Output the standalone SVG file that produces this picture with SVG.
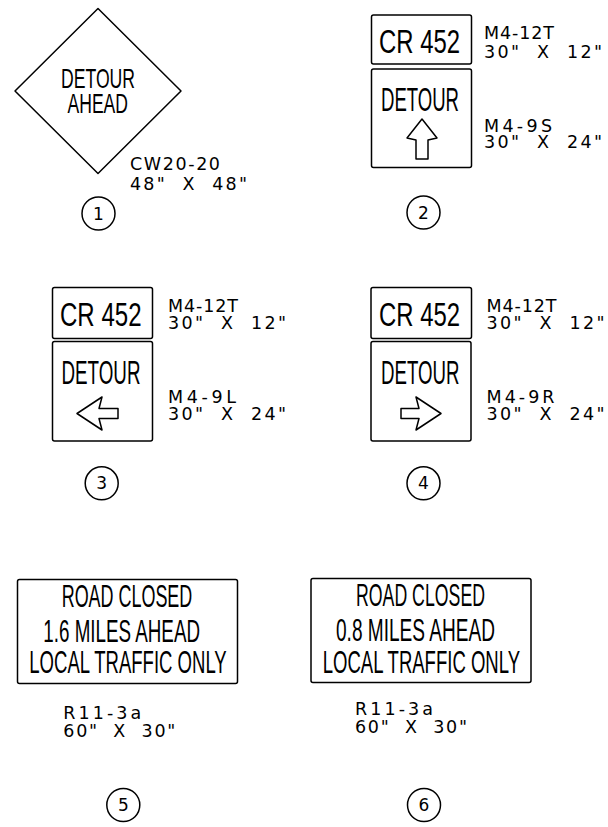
<svg xmlns="http://www.w3.org/2000/svg" width="608" height="827" viewBox="0 0 608 827">
<style>
.s{fill:none;stroke:#000;stroke-width:1.5;stroke-linejoin:round}
.t{font-family:"Liberation Sans",Arial,sans-serif;font-size:34px;fill:#000}
.d{font-family:"Liberation Sans",Arial,sans-serif;font-size:28px;fill:#000}
.r{font-family:"Liberation Sans",Arial,sans-serif;font-size:31px;fill:#000}
.l{font-family:"DejaVu Sans",sans-serif;font-size:17.5px;fill:#000;white-space:pre}
.n{font-family:"DejaVu Sans",sans-serif;font-size:17px;fill:#000;text-anchor:middle}
</style>
<rect width="608" height="827" fill="#fff"/>
<g id="sign1">
<polygon class="s" points="98,8.5 181,91 98,173.5 15,91"/>
<text class="d" x="61" y="87.7" textLength="74" lengthAdjust="spacingAndGlyphs">DETOUR</text>
<text class="d" x="67.5" y="113.3" textLength="60.5" lengthAdjust="spacingAndGlyphs">AHEAD</text>
<text class="l" x="130" y="170" textLength="90" lengthAdjust="spacing">CW20-20</text>
<text class="l" x="130" y="190" textLength="117" lengthAdjust="spacing" xml:space="preserve">48"  X  48"</text>
<circle class="s" cx="98.5" cy="213.5" r="16.5"/>
<text class="n" x="98.5" y="219.5">1</text>
</g>
<g id="sign2">
<rect class="s" x="371.5" y="15" width="100" height="49" rx="2"/>
<rect class="s" x="371.5" y="69" width="100" height="98.5" rx="2"/>
<text class="t" x="379" y="53.3" textLength="81" lengthAdjust="spacingAndGlyphs">CR 452</text>
<text class="t" x="381" y="111" textLength="78" lengthAdjust="spacingAndGlyphs">DETOUR</text>
<polygon class="s" points="422,119 437,138 428,140 428,159 416,159 416,140 407,138"/>
<text class="l" x="484" y="39.3" textLength="70" lengthAdjust="spacing">M4-12T</text>
<text class="l" x="484" y="58.3" textLength="118" lengthAdjust="spacing" xml:space="preserve">30"  X  12"</text>
<text class="l" x="484" y="131.7" textLength="68" lengthAdjust="spacing">M4-9S</text>
<text class="l" x="484" y="147.7" textLength="118" lengthAdjust="spacing" xml:space="preserve">30"  X  24"</text>
<circle class="s" cx="423.5" cy="212.5" r="16.5"/>
<text class="n" x="423.5" y="218.5">2</text>
</g>
<g id="sign3">
<rect class="s" x="52.5" y="287.5" width="100" height="51" rx="2"/>
<rect class="s" x="52.5" y="341.5" width="100" height="99.5" rx="2"/>
<text class="t" x="60" y="326" textLength="81.5" lengthAdjust="spacingAndGlyphs">CR 452</text>
<text class="t" x="61.5" y="384.3" textLength="79" lengthAdjust="spacingAndGlyphs">DETOUR</text>
<polygon class="s" points="77,413.5 102,397 99,408.5 118,408.5 118,418.5 99,418.5 102,430"/>
<text class="l" x="168" y="311.7" textLength="70" lengthAdjust="spacing">M4-12T</text>
<text class="l" x="168" y="329.3" textLength="118" lengthAdjust="spacing" xml:space="preserve">30"  X  12"</text>
<text class="l" x="168" y="403.3" textLength="68" lengthAdjust="spacing">M4-9L</text>
<text class="l" x="168" y="420" textLength="118" lengthAdjust="spacing" xml:space="preserve">30"  X  24"</text>
<circle class="s" cx="101.7" cy="483.3" r="16.5"/>
<text class="n" x="101.7" y="489.3">3</text>
</g>
<g id="sign4">
<rect class="s" x="371" y="287.5" width="100.5" height="51" rx="2"/>
<rect class="s" x="371" y="341.5" width="100" height="99.5" rx="2"/>
<text class="t" x="379" y="326" textLength="81" lengthAdjust="spacingAndGlyphs">CR 452</text>
<text class="t" x="381" y="384.3" textLength="78.5" lengthAdjust="spacingAndGlyphs">DETOUR</text>
<polygon class="s" points="441,413.5 416,397 419,408.5 401,408.5 401,418.5 419,418.5 416,430"/>
<text class="l" x="486.5" y="311.7" textLength="70" lengthAdjust="spacing">M4-12T</text>
<text class="l" x="486.5" y="329.3" textLength="118" lengthAdjust="spacing" xml:space="preserve">30"  X  12"</text>
<text class="l" x="486.5" y="403.3" textLength="68" lengthAdjust="spacing">M4-9R</text>
<text class="l" x="486.5" y="420" textLength="118" lengthAdjust="spacing" xml:space="preserve">30"  X  24"</text>
<circle class="s" cx="423.5" cy="483.3" r="16.5"/>
<text class="n" x="423.5" y="489.3">4</text>
</g>
<g id="sign5">
<rect class="s" x="17.5" y="579.5" width="220" height="104" rx="2"/>
<text class="r" x="61.7" y="606.7" textLength="130.6" lengthAdjust="spacingAndGlyphs">ROAD CLOSED</text>
<text class="r" x="43.3" y="641.7" textLength="156.7" lengthAdjust="spacingAndGlyphs">1.6 MILES AHEAD</text>
<text class="r" x="29.3" y="673.3" textLength="197.4" lengthAdjust="spacingAndGlyphs">LOCAL TRAFFIC ONLY</text>
<text class="l" x="63.3" y="719.3" textLength="78" lengthAdjust="spacing">R11-3a</text>
<text class="l" x="63.3" y="736.7" textLength="112" lengthAdjust="spacing" xml:space="preserve">60"  X  30"</text>
<circle class="s" cx="123.3" cy="805" r="16.5"/>
<text class="n" x="123.3" y="811">5</text>
</g>
<g id="sign6">
<rect class="s" x="311" y="578.5" width="220" height="104" rx="2"/>
<text class="r" x="356" y="606" textLength="129" lengthAdjust="spacingAndGlyphs">ROAD CLOSED</text>
<text class="r" x="336" y="641" textLength="159" lengthAdjust="spacingAndGlyphs">0.8 MILES AHEAD</text>
<text class="r" x="322.7" y="673" textLength="197.3" lengthAdjust="spacingAndGlyphs">LOCAL TRAFFIC ONLY</text>
<text class="l" x="355" y="715" textLength="78" lengthAdjust="spacing">R11-3a</text>
<text class="l" x="355" y="733.3" textLength="112" lengthAdjust="spacing" xml:space="preserve">60"  X  30"</text>
<circle class="s" cx="424" cy="805" r="16.5"/>
<text class="n" x="424" y="811">6</text>
</g>
<g id="connectors"/>
</svg>
